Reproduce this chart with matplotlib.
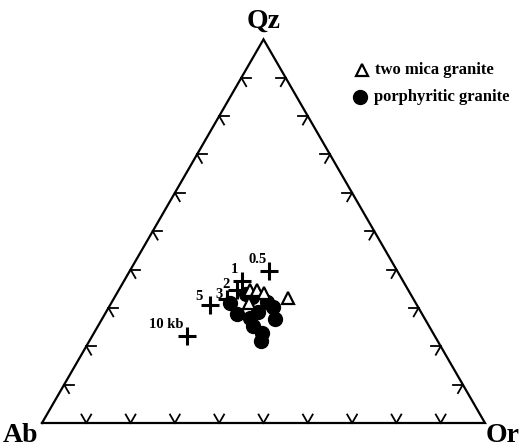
import matplotlib
matplotlib.use("Agg")
import matplotlib.pyplot as plt
import numpy as np

# ternary compositions in fractions (Qz, Ab, Or)
two_mica_qz = [0.347, 0.347, 0.339, 0.326, 0.313]
two_mica_ab = [0.357, 0.341, 0.329, 0.282, 0.376]
two_mica_or = [0.296, 0.312, 0.332, 0.392, 0.311]

porph_qz = [0.313, 0.284, 0.336, 0.328, 0.289, 0.274, 0.302, 0.271, 0.253, 0.235, 0.214, 0.315]
porph_ab = [0.419, 0.418, 0.372, 0.362, 0.368, 0.393, 0.328, 0.339, 0.397, 0.385, 0.399, 0.335]
porph_or = [0.268, 0.298, 0.292, 0.310, 0.343, 0.333, 0.370, 0.390, 0.350, 0.380, 0.387, 0.350]

# haplogranite minima at various water pressures
min_labels = ["0.5", "1", "2", "3", "5", "10 kb"]
min_qz = [0.396, 0.370, 0.347, 0.323, 0.308, 0.227]
min_ab = [0.290, 0.364, 0.386, 0.421, 0.467, 0.559]
min_or = [0.314, 0.266, 0.267, 0.256, 0.225, 0.214]
label_offsets = [(-8, 8), (-5, 8), (-8, 4), (-6, 3), (-8, 6), (-15, 8)]

tick_fracs = np.arange(0.1, 1.0, 0.1)

H = np.sqrt(3) / 2


def to_xy(qz, ab, orr):
    qz = np.asarray(qz, float)
    orr = np.asarray(orr, float)
    return orr + qz / 2, qz * H


fig = plt.figure(figsize=(5.28, 4.48), dpi=100)
ax = fig.add_axes([0, 0, 1, 1])
ax.set_xlim(-42 / 443, 486 / 443)
ax.set_ylim(-25 / 443, 423 / 443)
ax.axis("off")

serif = ["Liberation Serif", "DejaVu Serif"]

# triangle outline
ab_pt = np.array([0.0, 0.0])
or_pt = np.array([1.0, 0.0])
qz_pt = np.array([0.5, H])
tri = np.array([ab_pt, or_pt, qz_pt, ab_pt])
ax.plot(tri[:, 0], tri[:, 1], color="black", lw=1.6, solid_joinstyle="miter")

# chevron ticks along each edge (arms parallel to the other two edges)
arm = 0.022
edges = [
    (ab_pt, or_pt, [qz_pt - ab_pt, qz_pt - or_pt]),
    (ab_pt, qz_pt, [or_pt - ab_pt, or_pt - qz_pt]),
    (or_pt, qz_pt, [ab_pt - or_pt, ab_pt - qz_pt]),
]
for p0, p1, dirs in edges:
    for f in tick_fracs:
        p = p0 + f * (p1 - p0)
        for d in dirs:
            d = d / np.linalg.norm(d)
            q = p + arm * d
            ax.plot([p[0], q[0]], [p[1], q[1]], color="black", lw=1.3)

# apex labels
ax.text(0.5, H + 0.012, "Qz", ha="center", va="bottom", fontsize=20,
        fontweight="bold", family=serif)
ax.text(-0.048, 0.0, "Ab", ha="center", va="top", fontsize=20,
        fontweight="bold", family=serif)
ax.text(1.04, 0.0, "Or", ha="center", va="top", fontsize=20,
        fontweight="bold", family=serif)

# data
x, y = to_xy(min_qz, min_ab, min_or)
ax.plot(x, y, ls="none", marker="+", ms=13, mew=2.2, color="black")
for xi, yi, lab, off in zip(x, y, min_labels, label_offsets):
    ax.annotate(lab, (xi, yi), xytext=off, textcoords="offset points",
                ha="center", va="center", fontsize=10.5, fontweight="bold",
                family=serif)

x, y = to_xy(porph_qz, porph_ab, porph_or)
ax.plot(x, y, ls="none", marker="o", ms=10, color="black", mec="black")

x, y = to_xy(two_mica_qz, two_mica_ab, two_mica_or)
ax.plot(x, y, ls="none", marker="^", ms=9, mfc="white", mec="black", mew=1.6)

# legend
lx = (362 - 42) / 443
ly1 = (423 - 70) / 443
ly2 = (423 - 97) / 443
ax.plot([lx], [ly1], ls="none", marker="^", ms=9, mfc="white", mec="black", mew=1.6)
ax.plot([lx - 0.004], [ly2], ls="none", marker="o", ms=10, color="black")
ax.text(lx + 0.03, ly1, "two mica granite", ha="left", va="center",
        fontsize=12, fontweight="bold", family=serif)
ax.text(lx + 0.026, ly2, "porphyritic granite", ha="left", va="center",
        fontsize=12, fontweight="bold", family=serif)

fig.savefig("out.png", dpi=100, facecolor="white")
